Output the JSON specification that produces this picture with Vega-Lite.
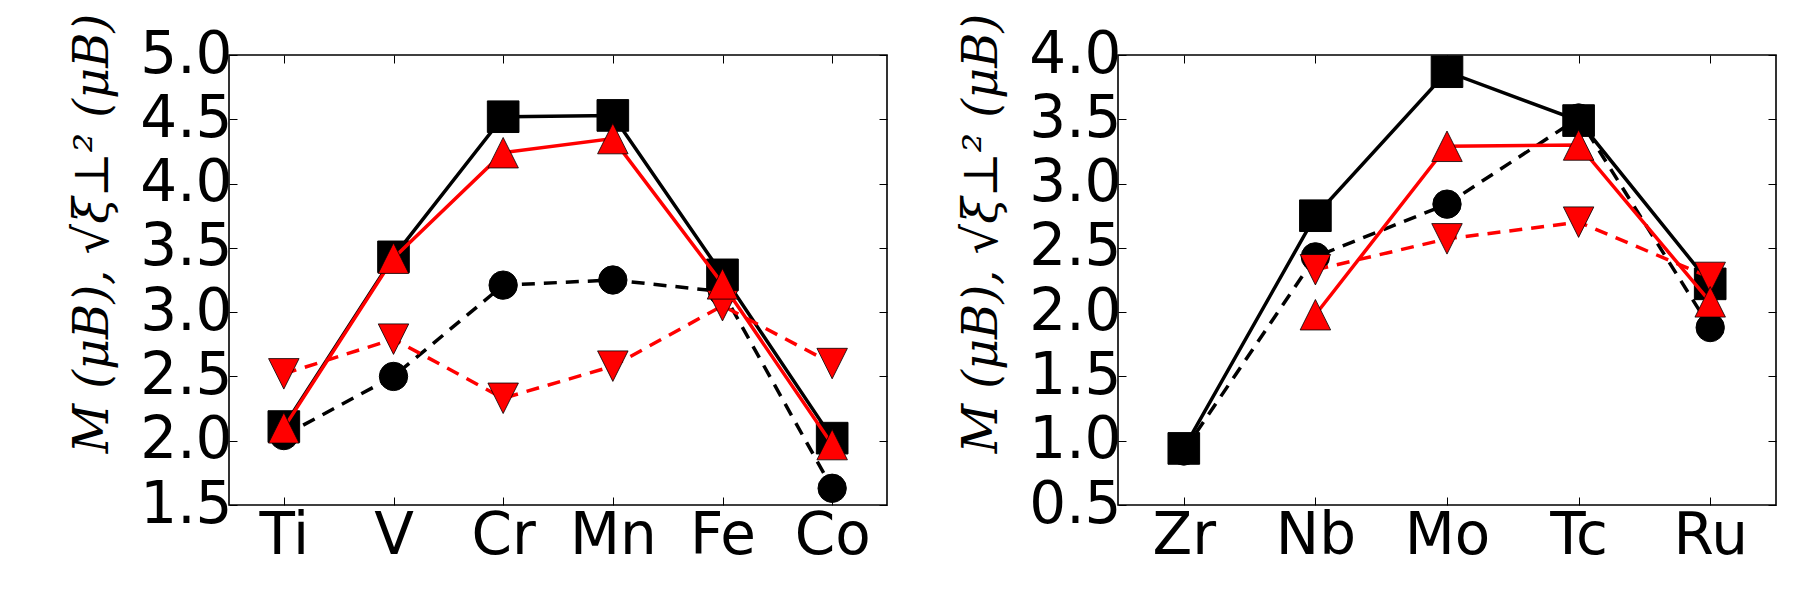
{
  "$schema": "https://vega.github.io/schema/vega-lite/v6.json",
  "background": "white",
  "padding": {"left": 68, "top": 12, "right": 5, "bottom": 5},
  "spacing": 68,
  "config": {
    "view": {"stroke": "black", "strokeWidth": 1.6},
    "axis": {
      "labelFont": "DejaVu Sans", "labelFontSize": 58, "labelColor": "black",
      "tickColor": "black", "tickWidth": 1, "tickSize": -8, "domain": false, "grid": false,
      "titleFont": "DejaVu Serif", "titleFontStyle": "italic", "titleFontWeight": "normal",
      "titleFontSize": 48, "titleColor": "black", "labelOverlap": false, "labelFlush": false
    }
  },
  "datasets": {
    "d": [
      {"panel": "A", "element": "Ti", "series": "circ", "value": 2.04},
      {"panel": "A", "element": "V", "series": "circ", "value": 2.50},
      {"panel": "A", "element": "Cr", "series": "circ", "value": 3.21},
      {"panel": "A", "element": "Mn", "series": "circ", "value": 3.25},
      {"panel": "A", "element": "Fe", "series": "circ", "value": 3.16},
      {"panel": "A", "element": "Co", "series": "circ", "value": 1.63},
      {"panel": "A", "element": "Ti", "series": "sq", "value": 2.11},
      {"panel": "A", "element": "V", "series": "sq", "value": 3.43},
      {"panel": "A", "element": "Cr", "series": "sq", "value": 4.52},
      {"panel": "A", "element": "Mn", "series": "sq", "value": 4.53},
      {"panel": "A", "element": "Fe", "series": "sq", "value": 3.29},
      {"panel": "A", "element": "Co", "series": "sq", "value": 2.02},
      {"panel": "A", "element": "Ti", "series": "dn", "value": 2.52},
      {"panel": "A", "element": "V", "series": "dn", "value": 2.79},
      {"panel": "A", "element": "Cr", "series": "dn", "value": 2.33},
      {"panel": "A", "element": "Mn", "series": "dn", "value": 2.58},
      {"panel": "A", "element": "Fe", "series": "dn", "value": 3.05},
      {"panel": "A", "element": "Co", "series": "dn", "value": 2.60},
      {"panel": "A", "element": "Ti", "series": "up", "value": 2.10},
      {"panel": "A", "element": "V", "series": "up", "value": 3.42},
      {"panel": "A", "element": "Cr", "series": "up", "value": 4.24},
      {"panel": "A", "element": "Mn", "series": "up", "value": 4.35},
      {"panel": "A", "element": "Fe", "series": "up", "value": 3.22},
      {"panel": "A", "element": "Co", "series": "up", "value": 1.97},
      {"panel": "B", "element": "Zr", "series": "circ", "value": 0.92},
      {"panel": "B", "element": "Nb", "series": "circ", "value": 2.43},
      {"panel": "B", "element": "Mo", "series": "circ", "value": 2.84},
      {"panel": "B", "element": "Tc", "series": "circ", "value": 3.51},
      {"panel": "B", "element": "Ru", "series": "circ", "value": 1.88},
      {"panel": "B", "element": "Zr", "series": "sq", "value": 0.94},
      {"panel": "B", "element": "Nb", "series": "sq", "value": 2.75},
      {"panel": "B", "element": "Mo", "series": "sq", "value": 3.87},
      {"panel": "B", "element": "Tc", "series": "sq", "value": 3.49},
      {"panel": "B", "element": "Ru", "series": "sq", "value": 2.22},
      {"panel": "B", "element": "Nb", "series": "dn", "value": 2.33},
      {"panel": "B", "element": "Mo", "series": "dn", "value": 2.57},
      {"panel": "B", "element": "Tc", "series": "dn", "value": 2.70},
      {"panel": "B", "element": "Ru", "series": "dn", "value": 2.27},
      {"panel": "B", "element": "Nb", "series": "up", "value": 1.98},
      {"panel": "B", "element": "Mo", "series": "up", "value": 3.29},
      {"panel": "B", "element": "Tc", "series": "up", "value": 3.30},
      {"panel": "B", "element": "Ru", "series": "up", "value": 2.08}
    ]
  },
  "hconcat": [
    {
      "width": 658, "height": 450,
      "data": {"name": "d"},
      "transform": [{"filter": "datum.panel == 'A'"}],
      "layer": [
        {
          "encoding": {
            "x": {"field": "element", "type": "ordinal", "sort": ["Ti", "V", "Cr", "Mn", "Fe", "Co"],
                  "scale": {"type": "point", "padding": 0.5},
                  "axis": {"orient": "bottom", "title": null, "labelAngle": 0, "labelPadding": 10}},
            "y": {"field": "value", "type": "quantitative",
                  "scale": {"domain": [1.5, 5.0], "nice": false, "zero": false},
                  "axis": {"orient": "left", "values": [1.5, 2.0, 2.5, 3.0, 3.5, 4.0, 4.5, 5.0], "format": ".1f", "labelPadding": 5,
                           "title": "M (μB), √ξ⊥² (μB)", "titleAngle": 270, "titleX": -136, "titleY": 178, "titleBaseline": "middle", "titleAlign": "center"}}
          },
          "layer": [
            {"transform": [{"filter": "datum.series == 'circ'"}], "layer": [
              {"mark": {"type": "line", "color": "black", "strokeWidth": 3.5, "strokeDash": [13, 9]}, "encoding": {}},
              {"mark": {"type": "point", "shape": "circle", "filled": true, "color": "black", "size": 804, "opacity": 1, "stroke": "black", "strokeWidth": 1}}
            ]},
            {"transform": [{"filter": "datum.series == 'sq'"}], "layer": [
              {"mark": {"type": "line", "color": "black", "strokeWidth": 3.5}, "encoding": {}},
              {"mark": {"type": "point", "shape": "square", "filled": true, "color": "black", "size": 1000, "opacity": 1, "stroke": "black", "strokeWidth": 1}}
            ]},
            {"transform": [{"filter": "datum.series == 'dn'"}], "layer": [
              {"mark": {"type": "line", "color": "#ff0000", "strokeWidth": 3.5, "strokeDash": [13, 9]}, "encoding": {}},
              {"mark": {"type": "point", "shape": "M0,1L1,-1L-1,-1Z", "filled": true, "fill": "#ff0000", "size": 930, "opacity": 1, "stroke": "black", "strokeWidth": 0.8}}
            ]},
            {"transform": [{"filter": "datum.series == 'up'"}], "layer": [
              {"mark": {"type": "line", "color": "#ff0000", "strokeWidth": 3.5}, "encoding": {}},
              {"mark": {"type": "point", "shape": "M0,-1L1,1L-1,1Z", "filled": true, "fill": "#ff0000", "size": 930, "opacity": 1, "stroke": "black", "strokeWidth": 0.8}}
            ]}
          ]
        },
        {
          "mark": {"type": "point", "opacity": 0},
          "encoding": {
            "x": {"field": "element", "type": "ordinal", "sort": ["Ti", "V", "Cr", "Mn", "Fe", "Co"],
                  "scale": {"type": "point", "padding": 0.5},
                  "axis": {"orient": "top", "title": null, "labels": false}},
            "y": {"field": "value", "type": "quantitative",
                  "scale": {"domain": [1.5, 5.0], "nice": false, "zero": false},
                  "axis": {"orient": "right", "values": [1.5, 2.0, 2.5, 3.0, 3.5, 4.0, 4.5, 5.0], "title": null, "labels": false}}
          }
        }
      ],
      "resolve": {"axis": {"x": "independent", "y": "independent"}}
    },
    {
      "width": 658, "height": 450,
      "data": {"name": "d"},
      "transform": [{"filter": "datum.panel == 'B'"}],
      "layer": [
        {
          "encoding": {
            "x": {"field": "element", "type": "ordinal", "sort": ["Zr", "Nb", "Mo", "Tc", "Ru"],
                  "scale": {"type": "point", "padding": 0.5},
                  "axis": {"orient": "bottom", "title": null, "labelAngle": 0, "labelPadding": 10}},
            "y": {"field": "value", "type": "quantitative",
                  "scale": {"domain": [0.5, 4.0], "nice": false, "zero": false},
                  "axis": {"orient": "left", "values": [0.5, 1.0, 1.5, 2.0, 2.5, 3.0, 3.5, 4.0], "format": ".1f", "labelPadding": 5,
                           "title": "M (μB), √ξ⊥² (μB)", "titleAngle": 270, "titleX": -136, "titleY": 178, "titleBaseline": "middle", "titleAlign": "center"}}
          },
          "layer": [
            {"transform": [{"filter": "datum.series == 'circ'"}], "layer": [
              {"mark": {"type": "line", "color": "black", "strokeWidth": 3.5, "strokeDash": [13, 9]}, "encoding": {}},
              {"mark": {"type": "point", "shape": "circle", "filled": true, "color": "black", "size": 804, "opacity": 1, "stroke": "black", "strokeWidth": 1}}
            ]},
            {"transform": [{"filter": "datum.series == 'sq'"}], "layer": [
              {"mark": {"type": "line", "color": "black", "strokeWidth": 3.5}, "encoding": {}},
              {"mark": {"type": "point", "shape": "square", "filled": true, "color": "black", "size": 1000, "opacity": 1, "stroke": "black", "strokeWidth": 1}}
            ]},
            {"transform": [{"filter": "datum.series == 'dn'"}], "layer": [
              {"mark": {"type": "line", "color": "#ff0000", "strokeWidth": 3.5, "strokeDash": [13, 9]}, "encoding": {}},
              {"mark": {"type": "point", "shape": "M0,1L1,-1L-1,-1Z", "filled": true, "fill": "#ff0000", "size": 930, "opacity": 1, "stroke": "black", "strokeWidth": 0.8}}
            ]},
            {"transform": [{"filter": "datum.series == 'up'"}], "layer": [
              {"mark": {"type": "line", "color": "#ff0000", "strokeWidth": 3.5}, "encoding": {}},
              {"mark": {"type": "point", "shape": "M0,-1L1,1L-1,1Z", "filled": true, "fill": "#ff0000", "size": 930, "opacity": 1, "stroke": "black", "strokeWidth": 0.8}}
            ]}
          ]
        },
        {
          "mark": {"type": "point", "opacity": 0},
          "encoding": {
            "x": {"field": "element", "type": "ordinal", "sort": ["Zr", "Nb", "Mo", "Tc", "Ru"],
                  "scale": {"type": "point", "padding": 0.5},
                  "axis": {"orient": "top", "title": null, "labels": false}},
            "y": {"field": "value", "type": "quantitative",
                  "scale": {"domain": [0.5, 4.0], "nice": false, "zero": false},
                  "axis": {"orient": "right", "values": [0.5, 1.0, 1.5, 2.0, 2.5, 3.0, 3.5, 4.0], "title": null, "labels": false}}
          }
        }
      ],
      "resolve": {"axis": {"x": "independent", "y": "independent"}}
    }
  ]
}
